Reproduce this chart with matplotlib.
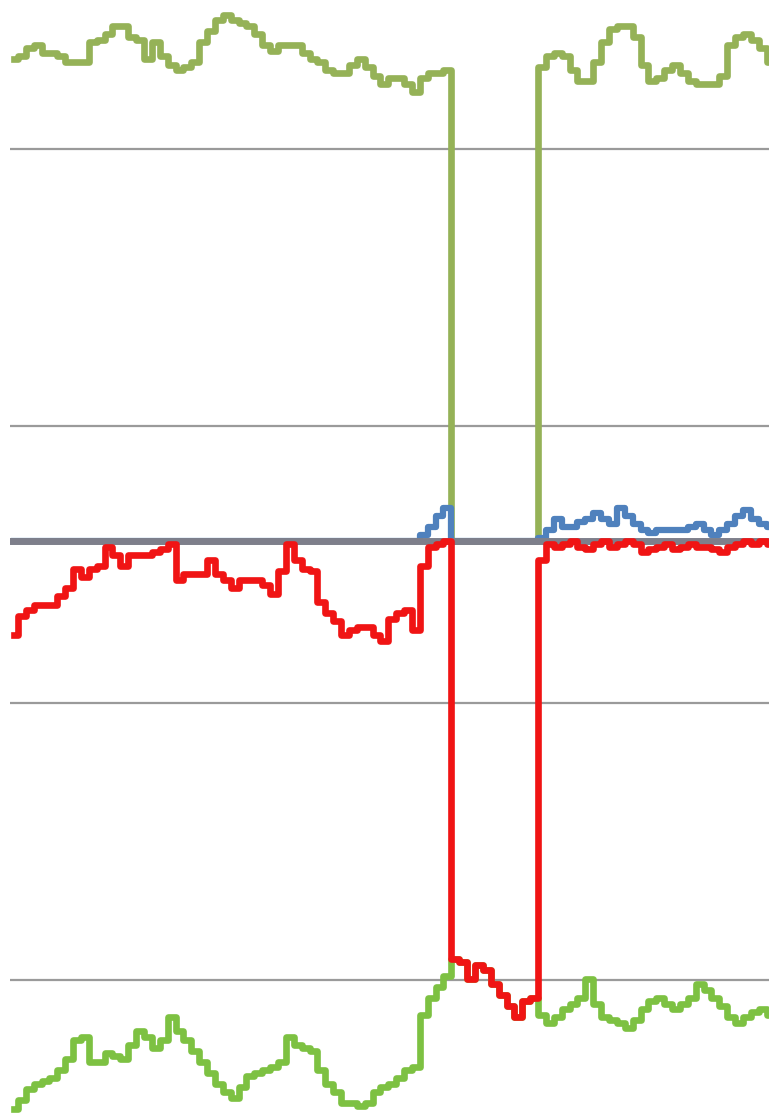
import matplotlib.pyplot as plt

# Series leídas por día (unidades del eje vertical)
banda_sup = [174, 175, 178, 179, 176, 176, 175, 173, 173, 173,
             180, 181, 183, 186, 186, 182, 181, 174, 180, 175,
             172, 170, 171, 173, 180, 184, 188, 190, 188, 187,
             186, 183, 179, 177, 179, 179, 179, 176, 174, 173,
             170, 169, 169, 172, 174, 171, 168, 165, 167, 167,
             165, 162, 167, 169, 169, 170,
             0, 0, 0, 0, 0, 0, 0, 0, 0, 0, 0,
             171, 175, 176, 175, 170, 166, 166, 173, 180, 185,
             186, 186, 182, 172, 166, 167, 170, 172, 169, 166,
             165, 165, 165, 168, 179, 182, 183, 181, 178, 173]

linea_roja = [-34, -27, -25, -23, -23, -23, -20, -17, -10, -13,
              -10, -9, -2, -5, -9, -5, -5, -5, -4, -3,
              -1, -14, -12, -12, -12, -7, -12, -14, -17, -14,
              -14, -14, -16, -19, -11, -1, -7, -10, -11, -22,
              -26, -29, -34, -32, -31, -31, -34, -36, -28, -26,
              -25, -32, -9, -2, -1, 0,
              -151, -152, -158, -153, -155, -160, -164, -168, -172, -166, -165,
              -7, -1, -2, -1, 0, -2, -3, -1, 0, -2,
              -1, 0, -1, -4, -3, -2, -1, -3, -2, -1,
              -2, -2, -3, -4, -2, -1, 0, -1, 0, -1]

linea_azul = [0] * 52 + [2, 5, 9, 12] + [0] * 11 + \
             [1, 4, 8, 5, 5, 7, 8, 10, 8, 6,
              12, 9, 6, 4, 3, 4, 4, 4, 4, 5,
              6, 4, 2, 4, 6, 9, 11, 8, 6, 5]

banda_inf = [-205, -202, -198, -196, -195, -194, -191, -187, -180, -179,
             -188, -188, -185, -186, -187, -182, -177, -179, -183, -180,
             -172, -177, -180, -184, -188, -192, -196, -199, -201, -197,
             -193, -192, -191, -190, -188, -179, -182, -183, -184, -191,
             -196, -199, -203, -203, -204, -203, -199, -197, -196, -194,
             -191, -190, -171, -165, -161, -157,
             -151, -152, -158, -153, -155, -160, -164, -168, -172, -166, -165,
             -171, -174, -172, -169, -167, -165, -158, -167, -172, -173,
             -174, -176, -173, -169, -166, -165, -167, -169, -167, -165,
             -160, -162, -165, -168, -172, -174, -172, -170, -169, -171]

dias = list(range(len(banda_sup)))
rejilla = [141.5, 41.5, -58.5, -158.5]

fig = plt.figure(figsize=(7.69, 11.16), dpi=100)
ax = fig.add_axes([10 / 769, 0, 759 / 769, 1])

for g in rejilla:
    ax.axhline(g, color='#9a9a9a', lw=1.6, zorder=1)

# escalones para que los saltos queden verticales
ax.plot(dias, banda_sup, color='#95b257', lw=4.8, drawstyle='steps-mid', zorder=2)
ax.plot(dias, linea_azul, color='#4f81bd', lw=4.5, drawstyle='steps-mid', zorder=3)
ax.axhline(0, color='#7e7f8b', lw=5, zorder=4)  # eje horizontal
ax.plot(dias, banda_inf, color='#7dc142', lw=4.8, drawstyle='steps-mid', zorder=5)
ax.plot(dias, linea_roja, color='#f01414', lw=4.8, drawstyle='steps-mid', zorder=6)

ax.set_xlim(-0.5, 95.8)
ax.set_ylim(-207.6, 195.3)
ax.axis('off')

fig.savefig('out.png', dpi=100)
